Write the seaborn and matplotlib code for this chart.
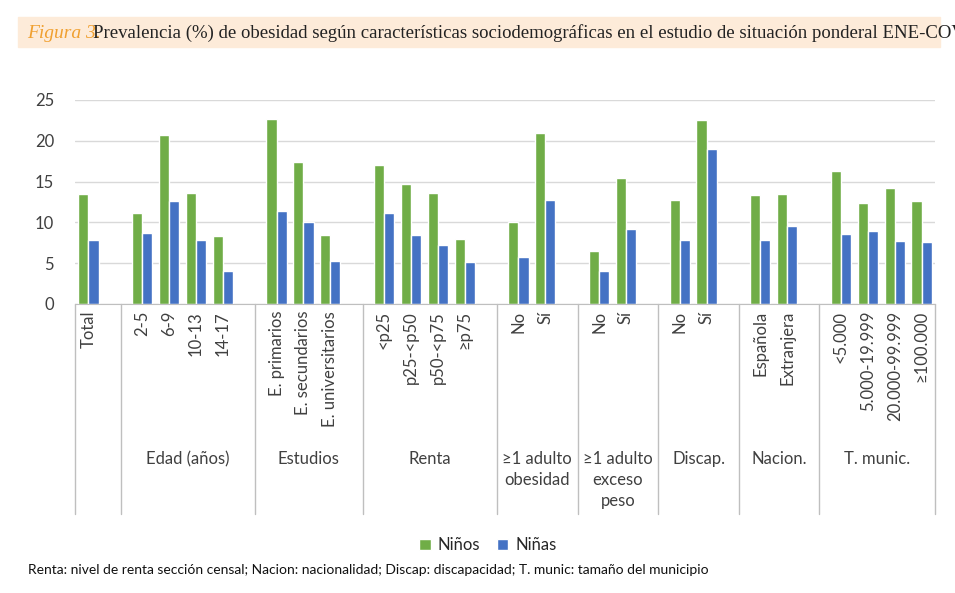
""" Figura 3 ENE-COVID obesidad """
import numpy as np
import pandas as pd
from matplotlib import pyplot as plt
import seaborn as sns

# Data
groups = ['', 'Edad (años)', 'Estudios', 'Renta', '≥1 adulto\nobesidad',
          '≥1 adulto\nexceso\npeso', 'Discap.', 'Nacion.', 'T. munic.']
cats = [['Total'],
        ['2-5', '6-9', '10-13', '14-17'],
        ['E. primarios', 'E. secundarios', 'E. universitarios'],
        ['<p25', 'p25-<p50', 'p50-<p75', '≥p75'],
        ['No', 'Sí'],
        ['No', 'Sí'],
        ['No', 'Sí'],
        ['Española', 'Extranjera'],
        ['<5.000', '5.000-19.999', '20.000-99.999', '≥100.000']]
ninos = [[13.5], [11.1, 20.7, 13.6, 8.3], [22.7, 17.4, 8.4],
         [17.0, 14.7, 13.6, 8.0], [10.1, 20.9], [6.5, 15.4], [12.8, 22.6],
         [13.3, 13.5], [16.3, 12.4, 14.2, 12.6]]
ninas = [[7.9], [8.7, 12.6, 7.8, 4.1], [11.4, 10.0, 5.3],
         [11.1, 8.4, 7.2, 5.2], [5.8, 12.8], [4.1, 9.2], [7.8, 19.0],
         [7.9, 9.5], [8.6, 8.9, 7.7, 7.6]]

# Build slots with a blank slot between groups
rows, order, ticklabels, seps = [], [], [], []
for gi, (g, cs) in enumerate(zip(groups, cats)):
    for ci, c in enumerate(cs):
        key = f'{gi}_{ci}'
        order.append(key)
        ticklabels.append(c)
        rows.append(dict(slot=key, sexo='Niños', val=ninos[gi][ci]))
        rows.append(dict(slot=key, sexo='Niñas', val=ninas[gi][ci]))
    if gi < len(groups) - 1:
        order.append(f'blank{gi}')
        ticklabels.append('')
    seps.append(len(order) - 1 + 0.2 if gi < len(groups) - 1 else len(order) - 0.5)
df = pd.DataFrame(rows)

sns.set_style('white')
plt.rcParams['font.family'] = ['Lato', 'DejaVu Sans']

fig = plt.figure(figsize=(9.55, 5.93), dpi=100)
ax = fig.add_axes([75/955, 1-304/593, 860/955, 204/593])

sns.barplot(data=df, x='slot', y='val', hue='sexo', order=order,
            palette={'Niños': '#70ad47', 'Niñas': '#4472c4'}, width=0.75,
            ax=ax, legend=True, saturation=1)

ax.set_xlim(-0.5, len(order) - 0.5)
ax.set_ylim(0, 25)
ax.set_yticks(np.arange(0, 26, 5))
ax.yaxis.grid(True, color='#d9d9d9', lw=1)
ax.set_axisbelow(True)
for s in ['top', 'right', 'left']:
    ax.spines[s].set_visible(False)
ax.spines['bottom'].set_color('#bfbfbf')
ax.tick_params(axis='y', labelsize=12, length=0, colors='#404040', pad=15)
ax.set_xticks(range(len(order)))
ax.set_xticklabels(ticklabels, rotation=90, fontsize=12, color='#404040')
ax.tick_params(axis='x', length=0, pad=5)
ax.set_xlabel('')
ax.set_ylabel('')

# Group separators and labels below the axis
trans = ax.get_xaxis_transform()
bounds = [-0.5] + seps
for s in bounds:
    ax.plot([s, s], [0, -1.03], color='#bfbfbf', lw=1, transform=trans, clip_on=False)
for gi, g in enumerate(groups):
    mid = (bounds[gi] + bounds[gi + 1]) / 2
    ax.text(mid, -0.72, g, transform=trans, ha='center', va='top',
            fontsize=12, color='#404040', linespacing=1.4)

ax.legend(loc='upper center', bbox_to_anchor=(0.48, -1.07), ncol=2, frameon=False,
          fontsize=12, handlelength=0.7, handleheight=0.7, columnspacing=1.0,
          handletextpad=0.4)

# Title box
fig.patches.append(plt.Rectangle((18/955, 1-47/593), 922/955, 30/593,
                                 transform=fig.transFigure, color='#fdebd9', zorder=0))
fig.text(27/955, 1-33/593, 'Figura 3.', fontsize=14, color='#f0a030',
         style='italic', family='Liberation Serif', va='center')
fig.text(93/955, 1-33/593,
         'Prevalencia (%) de obesidad según características sociodemográficas '
         'en el estudio de situación ponderal ENE-COVID',
         fontsize=13.5, family='Liberation Serif', va='center', color='#222222')

fig.text(28/955, 1-570/593,
         'Renta: nivel de renta sección censal; Nacion: nacionalidad; '
         'Discap: discapacidad; T. munic: tamaño del municipio',
         fontsize=10, va='center', color='#111111')

plt.savefig('out.png', dpi=100)
